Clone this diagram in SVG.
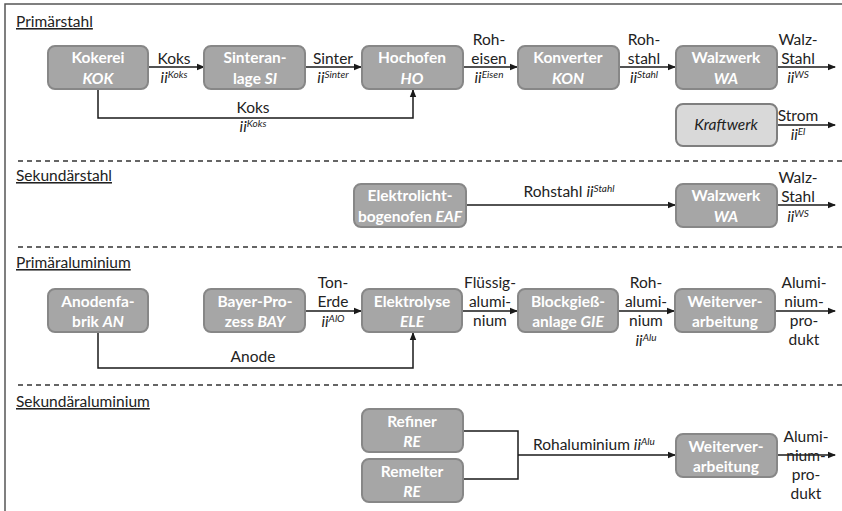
<svg xmlns="http://www.w3.org/2000/svg" width="842" height="511" viewBox="0 0 842 511">
<defs>
<marker id="ah" markerWidth="8" markerHeight="8" refX="7" refY="4" orient="auto" markerUnits="userSpaceOnUse">
<path d="M0,0.8 L8,4 L0,7.2 Z" fill="#1a1a1a"/>
</marker>
<style>
text{font-family:Lato,"Open Sans","Liberation Sans",sans-serif;font-size:15.5px;fill:#222}
.box{fill:#a6a6a6;stroke:#878787;stroke-width:2}
.lbox{fill:#d9d9d9;stroke:#7f7f7f;stroke-width:2}
.bt{fill:#fff;font-weight:bold;text-anchor:middle}
.i{font-style:italic}
.c{text-anchor:middle}
.sup{font-size:10px;font-style:italic}
.ttl{text-decoration:underline}
.con{fill:none;stroke:#1a1a1a;stroke-width:1.5}
.arr{marker-end:url(#ah)}
.dash{stroke:#333;stroke-width:1.3;stroke-dasharray:5 4;fill:none}
</style>
</defs>
<rect x="5" y="4" width="900" height="600" fill="#fff" stroke="#555" stroke-width="1.5"/>
<g id="separators">
<line class="dash" x1="18" y1="161" x2="842" y2="161"/>
<line class="dash" x1="18" y1="247" x2="842" y2="247"/>
<line class="dash" x1="18" y1="385" x2="842" y2="385"/>
</g>
<g id="titles">
<text class="ttl" x="16" y="27">Primärstahl</text>
<text class="ttl" x="16" y="181">Sekundärstahl</text>
<text class="ttl" x="16" y="268">Primäraluminium</text>
<text class="ttl" x="16" y="407">Sekundäraluminium</text>
</g>
<g id="connectors">
<line class="con arr" x1="148" y1="67" x2="204" y2="67"/>
<line class="con arr" x1="305" y1="67" x2="361" y2="67"/>
<line class="con arr" x1="463" y1="67" x2="517" y2="67"/>
<line class="con arr" x1="619" y1="67" x2="675" y2="67"/>
<line class="con arr" x1="777" y1="67" x2="835" y2="67"/>
<polyline class="con arr" points="98,89 98,118 413,118 413,90"/>
<line class="con arr" x1="777" y1="125" x2="835" y2="125"/>
<line class="con arr" x1="466" y1="205" x2="675" y2="205"/>
<line class="con arr" x1="777" y1="205" x2="835" y2="205"/>
<line class="con arr" x1="305" y1="311" x2="361" y2="311"/>
<line class="con arr" x1="462" y1="311" x2="517" y2="311"/>
<line class="con arr" x1="618" y1="311" x2="674" y2="311"/>
<line class="con arr" x1="775" y1="311" x2="835" y2="311"/>
<polyline class="con arr" points="98,332 98,368 413,368 413,333"/>
<polyline class="con" points="463,431 518,431 518,479 463,479"/>
<line class="con arr" x1="518" y1="455" x2="675" y2="455"/>
<line class="con arr" x1="777" y1="455" x2="835" y2="455"/>
</g>
<g id="labels">
<text class="c" x="174" y="64">Koks</text>
<text class="c" x="174" y="83"><tspan class="i">ii</tspan><tspan class="sup" dy="-5">Koks</tspan></text>
<text class="c" x="333" y="64">Sinter</text>
<text class="c" x="333" y="83"><tspan class="i">ii</tspan><tspan class="sup" dy="-5">Sinter</tspan></text>
<text class="c" x="489" y="45">Roh-</text>
<text class="c" x="489" y="64">eisen</text>
<text class="c" x="489" y="83"><tspan class="i">ii</tspan><tspan class="sup" dy="-5">Eisen</tspan></text>
<text class="c" x="644" y="45">Roh-</text>
<text class="c" x="644" y="64">stahl</text>
<text class="c" x="644" y="83"><tspan class="i">ii</tspan><tspan class="sup" dy="-5">Stahl</tspan></text>
<text class="c" x="798" y="45">Walz-</text>
<text class="c" x="798" y="64">Stahl</text>
<text class="c" x="798" y="83"><tspan class="i">ii</tspan><tspan class="sup" dy="-5">WS</tspan></text>
<text class="c" x="253" y="113">Koks</text>
<text class="c" x="253" y="132"><tspan class="i">ii</tspan><tspan class="sup" dy="-5">Koks</tspan></text>
<text class="c" x="798" y="121">Strom</text>
<text class="c" x="798" y="140"><tspan class="i">ii</tspan><tspan class="sup" dy="-5">El</tspan></text>
<text class="c" x="569" y="197">Rohstahl <tspan class="i">ii</tspan><tspan class="sup" dy="-5">Stahl</tspan></text>
<text class="c" x="798" y="183">Walz-</text>
<text class="c" x="798" y="202">Stahl</text>
<text class="c" x="798" y="222"><tspan class="i">ii</tspan><tspan class="sup" dy="-5">WS</tspan></text>
<text class="c" x="333" y="288">Ton-</text>
<text class="c" x="333" y="307">Erde</text>
<text class="c" x="333" y="327"><tspan class="i">ii</tspan><tspan class="sup" dy="-5">AlO</tspan></text>
<text class="c" x="490" y="288">Flüssig-</text>
<text class="c" x="490" y="307">alumi-</text>
<text class="c" x="490" y="326">nium</text>
<text class="c" x="646" y="288">Roh-</text>
<text class="c" x="646" y="307">alumi-</text>
<text class="c" x="646" y="326">nium</text>
<text class="c" x="646" y="346"><tspan class="i">ii</tspan><tspan class="sup" dy="-5">Alu</tspan></text>
<text class="c" x="804" y="288">Alumi-</text>
<text class="c" x="804" y="307">nium-</text>
<text class="c" x="804" y="326">pro-</text>
<text class="c" x="804" y="345">dukt</text>
<text class="c" x="253" y="362">Anode</text>
<text x="533" y="450">Rohaluminium <tspan class="i">ii</tspan><tspan class="sup" dy="-5">Alu</tspan></text>
<text class="c" x="806" y="442">Alumi-</text>
<text class="c" x="806" y="461">nium-</text>
<text class="c" x="806" y="480">pro-</text>
<text class="c" x="806" y="499">dukt</text>
</g>
<g id="KOK"><rect class="box" x="48" y="46" width="100" height="43" rx="7"/><text class="bt" x="98" y="63">Kokerei</text><text class="bt i" x="98" y="84">KOK</text></g>
<g id="SI"><rect class="box" x="204" y="46" width="101" height="43" rx="7"/><text class="bt" x="255" y="63">Sinteran-</text><text class="bt" x="255" y="84">lage <tspan class="i">SI</tspan></text></g>
<g id="HO"><rect class="box" x="362" y="46" width="101" height="43" rx="7"/><text class="bt" x="412" y="63">Hochofen</text><text class="bt i" x="412" y="84">HO</text></g>
<g id="KON"><rect class="box" x="518" y="46" width="101" height="43" rx="7"/><text class="bt" x="568" y="63">Konverter</text><text class="bt i" x="568" y="84">KON</text></g>
<g id="WA1"><rect class="box" x="676" y="46" width="101" height="43" rx="7"/><text class="bt" x="726" y="63">Walzwerk</text><text class="bt i" x="726" y="84">WA</text></g>
<g id="KW"><rect class="lbox" x="676" y="104" width="101" height="42" rx="7"/><text class="c i" x="726" y="130">Kraftwerk</text></g>
<g id="EAF"><rect class="box" x="354" y="184" width="112" height="43" rx="7"/><text class="bt" x="410" y="201">Elektrolicht-</text><text class="bt" x="410" y="222">bogenofen <tspan class="i">EAF</tspan></text></g>
<g id="WA2"><rect class="box" x="676" y="184" width="101" height="43" rx="7"/><text class="bt" x="726" y="201">Walzwerk</text><text class="bt i" x="726" y="222">WA</text></g>
<g id="AN"><rect class="box" x="48" y="289" width="100" height="43" rx="7"/><text class="bt" x="98" y="307">Anodenfa-</text><text class="bt" x="98" y="327">brik <tspan class="i">AN</tspan></text></g>
<g id="BAY"><rect class="box" x="204" y="289" width="101" height="43" rx="7"/><text class="bt" x="255" y="307">Bayer-Pro-</text><text class="bt" x="255" y="327">zess <tspan class="i">BAY</tspan></text></g>
<g id="ELE"><rect class="box" x="362" y="289" width="100" height="43" rx="7"/><text class="bt" x="412" y="307">Elektrolyse</text><text class="bt i" x="412" y="327">ELE</text></g>
<g id="GIE"><rect class="box" x="518" y="289" width="100" height="43" rx="7"/><text class="bt" x="568" y="307">Blockgieß-</text><text class="bt" x="568" y="327">anlage <tspan class="i">GIE</tspan></text></g>
<g id="WV1"><rect class="box" x="675" y="289" width="100" height="43" rx="7"/><text class="bt" x="725" y="307">Weiterver-</text><text class="bt" x="725" y="327">arbeitung</text></g>
<g id="RE1"><rect class="box" x="362" y="409" width="101" height="43" rx="7"/><text class="bt" x="412" y="427">Refiner</text><text class="bt i" x="412" y="447">RE</text></g>
<g id="RE2"><rect class="box" x="362" y="459" width="101" height="43" rx="7"/><text class="bt" x="412" y="477">Remelter</text><text class="bt i" x="412" y="497">RE</text></g>
<g id="WV2"><rect class="box" x="676" y="434" width="101" height="43" rx="7"/><text class="bt" x="726" y="452">Weiterver-</text><text class="bt" x="726" y="472">arbeitung</text></g>
</svg>
